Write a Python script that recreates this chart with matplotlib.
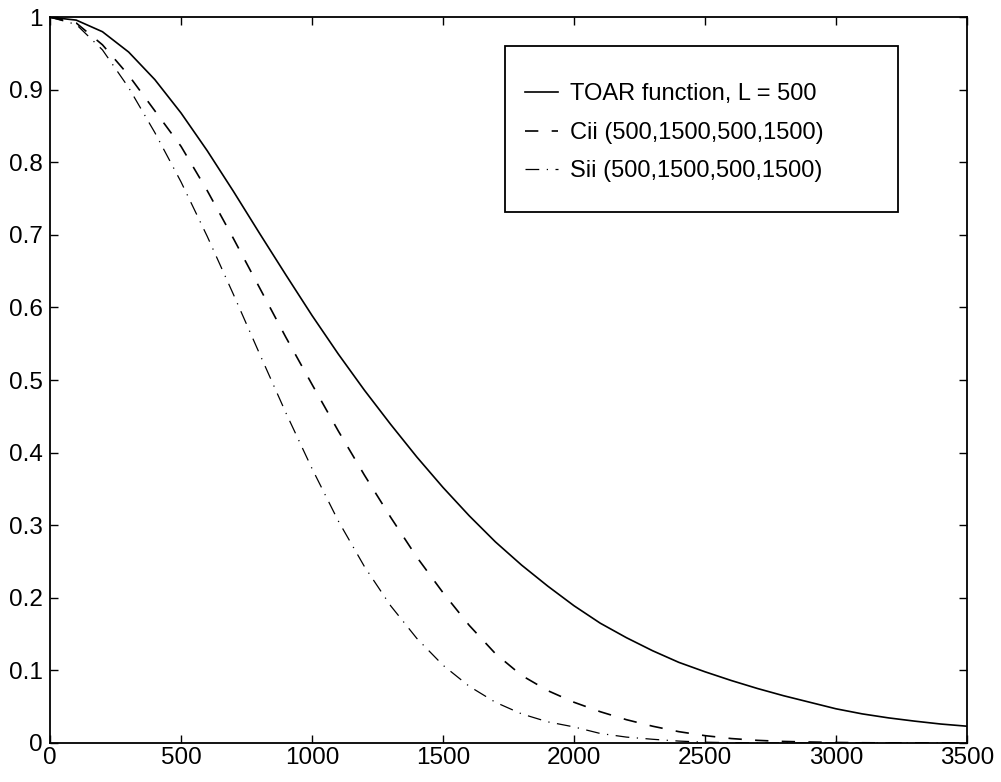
import matplotlib
matplotlib.use("Agg")
import matplotlib.pyplot as plt
from matplotlib.patches import Rectangle

# Donnees
x = [0, 100, 200, 300, 400, 500, 600, 700, 800, 900, 1000, 1100, 1200,
     1300, 1400, 1500, 1600, 1700, 1800, 1900, 2000, 2100, 2200, 2300,
     2400, 2500, 2600, 2700, 2800, 2900, 3000, 3100, 3200, 3300, 3400, 3500]

toar = [1.000, 0.996, 0.980, 0.952, 0.914, 0.868, 0.816, 0.760, 0.702,
        0.645, 0.589, 0.536, 0.486, 0.439, 0.394, 0.352, 0.313, 0.277,
        0.245, 0.216, 0.189, 0.165, 0.145, 0.127, 0.111, 0.098, 0.086,
        0.075, 0.065, 0.056, 0.047, 0.040, 0.0345, 0.030, 0.026, 0.023]

cii = [1.000, 0.992, 0.962, 0.920, 0.871, 0.822, 0.761, 0.695, 0.627,
       0.559, 0.494, 0.430, 0.369, 0.311, 0.256, 0.207, 0.162, 0.123,
       0.093, 0.072, 0.056, 0.043, 0.032, 0.023, 0.0155, 0.010, 0.006,
       0.0035, 0.002, 0.0012, 0.0006, 0.0002, 0.0, 0.0, 0.0, 0.0]

sii = [1.000, 0.990, 0.955, 0.903, 0.841, 0.773, 0.698, 0.618, 0.536,
       0.455, 0.378, 0.306, 0.243, 0.189, 0.144, 0.107, 0.078, 0.056,
       0.040, 0.029, 0.022, 0.013, 0.008, 0.005, 0.0025, 0.001, 0.0003,
       0.0, 0.0, 0.0, 0.0, 0.0, 0.0, 0.0, 0.0, 0.0]

labels = ["TOAR function, L = 500",
          "Cii (500,1500,500,1500)",
          "Sii (500,1500,500,1500)"]

plt.rcParams["font.family"] = ["Liberation Sans", "DejaVu Sans"]
plt.rcParams["font.size"] = 17

fig = plt.figure(figsize=(10.01, 7.82), dpi=100)
ax = fig.add_axes([0.05, 0.05, 0.916, 0.928])

ax.plot(x, toar, color="black", lw=1.2, label=labels[0])
ax.plot(x, cii, color="black", lw=1.2, dashes=(8, 8), label=labels[1])
ax.plot(x, sii, color="black", lw=0.9, dashes=(11, 6, 1, 6), label=labels[2])

ax.set_xlim(0, 3500)
ax.set_ylim(0, 1)
ax.set_xticks(range(0, 3501, 500))
ax.set_yticks([i / 10 for i in range(11)])
ax.set_yticklabels(["0", "0.1", "0.2", "0.3", "0.4", "0.5", "0.6", "0.7",
                    "0.8", "0.9", "1"])
ax.tick_params(direction="in", length=6, width=1, top=True, right=True,
               labelsize=17.5, color="black")
ax.tick_params(axis="y", pad=5)
ax.tick_params(axis="x", pad=3)
for s in ax.spines.values():
    s.set_linewidth(1.3)

# Legende : cadre dessine a part
ax.add_patch(Rectangle((0.496, 0.731), 0.429, 0.230, transform=ax.transAxes,
                       fill=False, edgecolor="black", lw=1.3, zorder=5))
ax.legend(loc="upper left", bbox_to_anchor=(0.518, 0.909), frameon=False,
          handlelength=1.4, handletextpad=0.5, labelspacing=0.7,
          borderpad=0, borderaxespad=0, fontsize=17)

plt.savefig("out.png", dpi=100)
